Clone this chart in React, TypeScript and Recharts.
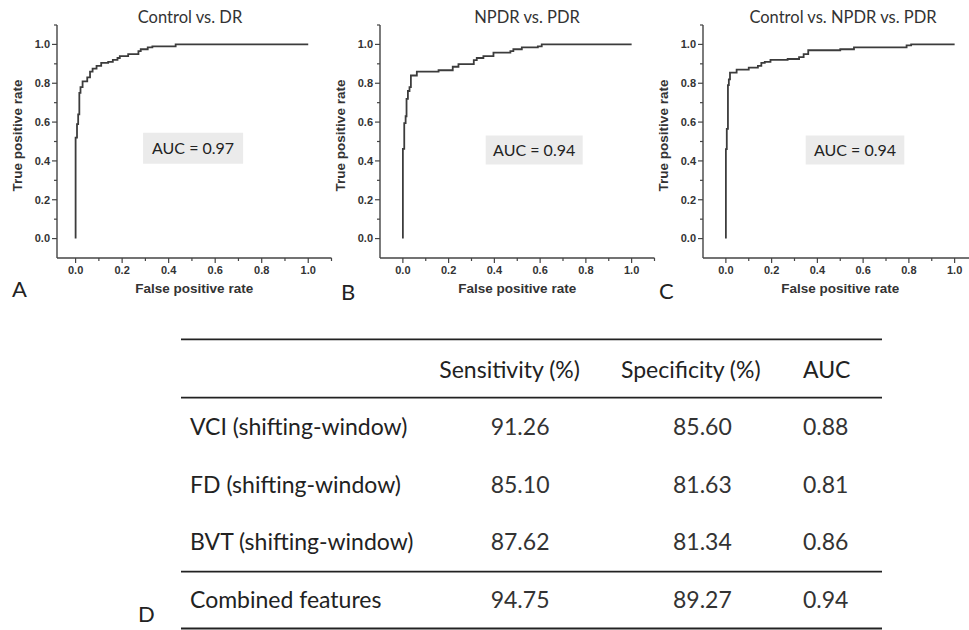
import React from 'react'
import { LineChart, Line, XAxis, YAxis, ReferenceArea } from 'recharts'

// ROC curve corners (false positive rate, true positive rate).
const CONTROL_DR_FPR = [0, 0, 0.006, 0.011, 0.016, 0.021, 0.03, 0.05, 0.062, 0.073, 0.09, 0.11, 0.14, 0.16, 0.18, 0.19, 0.226, 0.27, 0.28, 0.31, 0.33, 0.43, 1.0]
const CONTROL_DR_TPR = [0, 0.52, 0.59, 0.64, 0.75, 0.78, 0.81, 0.83, 0.86, 0.875, 0.89, 0.905, 0.91, 0.92, 0.93, 0.94, 0.95, 0.965, 0.975, 0.985, 0.99, 1.0, 1.0]

const NPDR_PDR_FPR = [0, 0, 0.006, 0.012, 0.016, 0.022, 0.029, 0.035, 0.061, 0.156, 0.218, 0.243, 0.31, 0.323, 0.352, 0.396, 0.47, 0.483, 0.52, 0.59, 0.607, 1.0]
const NPDR_PDR_TPR = [0, 0.462, 0.595, 0.63, 0.72, 0.76, 0.78, 0.84, 0.86, 0.867, 0.885, 0.898, 0.919, 0.93, 0.94, 0.958, 0.965, 0.975, 0.985, 0.99, 1.0, 1.0]

const THREE_CLASS_FPR = [0, 0, 0.004, 0.009, 0.013, 0.018, 0.047, 0.1, 0.14, 0.155, 0.17, 0.195, 0.27, 0.32, 0.34, 0.36, 0.5, 0.56, 0.79, 0.81, 1.0]
const THREE_CLASS_TPR = [0, 0.461, 0.565, 0.79, 0.82, 0.855, 0.87, 0.88, 0.89, 0.905, 0.91, 0.92, 0.925, 0.935, 0.95, 0.97, 0.975, 0.985, 0.995, 1.0, 1.0]

const PANEL_TITLES = ['Control vs. DR', 'NPDR vs. PDR', 'Control vs. NPDR vs. PDR']
const PANEL_AUC = ['0.97', '0.94', '0.94']
const PANEL_LETTERS = ['A', 'B', 'C']

const X_TICKS = [0, 0.1, 0.2, 0.3, 0.4, 0.5, 0.6, 0.7, 0.8, 0.9, 1.0, 1.1]
const Y_TICKS = [0, 0.1, 0.2, 0.3, 0.4, 0.5, 0.6, 0.7, 0.8, 0.9, 1.0, 1.1]

// table D
const TABLE_HEADERS = ['', 'Sensitivity (%)', 'Specificity (%)', 'AUC']
const FEATURES = ['VCI (shifting-window)', 'FD (shifting-window)', 'BVT (shifting-window)', 'Combined features']
const SENSITIVITY = [91.26, 85.1, 87.62, 94.75]
const SPECIFICITY = [85.6, 81.63, 81.34, 89.27]
const AUC_VALUES = [0.88, 0.81, 0.86, 0.94]

const AXIS = '#444'
const SANS = '"Liberation Sans", Arial, sans-serif'
const SOFT = 'Lato, "Open Sans", sans-serif'

const panels = [
  { fpr: CONTROL_DR_FPR, tpr: CONTROL_DR_TPR, left: 0, xMin: -0.08, box: [0.29, 0.72, 0.385, 0.545], titleX: 190, letterX: 12, letterY: 297 },
  { fpr: NPDR_PDR_FPR, tpr: NPDR_PDR_TPR, left: 323, xMin: -0.1, box: [0.362, 0.786, 0.381, 0.531], titleX: 527, letterX: 341, letterY: 300 },
  { fpr: THREE_CLASS_FPR, tpr: THREE_CLASS_TPR, left: 645.7, xMin: -0.1, box: [0.349, 0.78, 0.381, 0.531], titleX: 843, letterX: 659, letterY: 299 },
]

const isMajor = (v: number) => Math.round(v * 10) % 2 === 0 && v < 1.05

function XTick({ x, y, payload }: any) {
  const v = payload.value as number
  const major = isMajor(v)
  return (
    <g>
      <line x1={x} y1={y} x2={x} y2={y + (major ? 5 : 3)} stroke={AXIS} strokeWidth={1.2} />
      {major && (
        <text x={x} y={y + 8} dy="0.71em" textAnchor="middle" fontFamily={SANS} fontWeight="bold" fontSize={11} fill="#333">
          {v.toFixed(1)}
        </text>
      )}
    </g>
  )
}

function YTick({ x, y, payload }: any) {
  const v = payload.value as number
  const major = isMajor(v)
  return (
    <g>
      <line x1={x} y1={y} x2={x - (major ? 5 : 3)} y2={y} stroke={AXIS} strokeWidth={1.2} />
      {major && (
        <text x={x - 7} y={y} dy="0.35em" textAnchor="end" fontFamily={SANS} fontWeight="bold" fontSize={11} fill="#333">
          {v.toFixed(1)}
        </text>
      )}
    </g>
  )
}

function YTitle({ viewBox }: any) {
  const vb = viewBox ?? { x: 0, y: 25, width: 57, height: 233 }
  const cx = vb.x + vb.width - 40
  const cy = vb.y + vb.height / 2 - 6
  return (
    <text x={cx} y={cy} transform={`rotate(-90 ${cx} ${cy})`} textAnchor="middle" dominantBaseline="central"
      fontFamily={SANS} fontWeight="bold" fontSize={13.5} fill="#333">
      True positive rate
    </text>
  )
}

function RocPanel({ index }: { index: number }) {
  const p = panels[index]
  const data = p.fpr.map((f, i) => ({ fpr: f, tpr: p.tpr[i] }))
  return (
    <div style={{ position: 'absolute', left: p.left, top: 0 }}>
      <LineChart width={345} height={300} data={data} margin={{ top: 25, right: 13.5, bottom: 7, left: 0 }}>
        <XAxis dataKey="fpr" type="number" domain={[p.xMin, 1.1]} ticks={X_TICKS} interval={0} allowDataOverflow
          tickSize={0} tickMargin={0} tickLine={false} tick={<XTick />} height={35}
          axisLine={{ stroke: AXIS, strokeWidth: 1.4 }}
          label={{ value: 'False positive rate', position: 'insideBottom', offset: 0, fill: '#333', fontSize: 13.5, fontWeight: 'bold', fontFamily: SANS }} />
        <YAxis type="number" domain={[-0.1, 1.1]} ticks={Y_TICKS} interval={0} allowDataOverflow
          tickSize={0} tickMargin={0} tickLine={false} tick={<YTick />} width={57}
          axisLine={{ stroke: AXIS, strokeWidth: 1.4 }}
          label={{ content: (props: any) => <YTitle {...props} /> }} />
        <ReferenceArea x1={p.box[0]} x2={p.box[1]} y1={p.box[2]} y2={p.box[3]} fill="#ebebeb" fillOpacity={1} stroke="none"
          label={{ value: `AUC = ${PANEL_AUC[index]}`, position: 'center', fill: '#222', fontSize: 16, fontFamily: SOFT }} />
        <Line type="stepAfter" dataKey="tpr" stroke="#3c3c3c" strokeWidth={1.8} dot={false} isAnimationActive={false} />
      </LineChart>
    </div>
  )
}

const HEADER_X = [190, 439.3, 621, 803]
const VALUE_X = [190, 490.7, 673, 803]
const ROW_BASELINES = [435, 492.7, 550, 608.3]
const RULES_Y = [339.3, 397.7, 571.7, 628.5]
const TABLE_FONT = 23

export default function App() {
  return (
    <div style={{ position: 'absolute', left: 0, top: 0, width: 969, height: 630, overflow: 'hidden', background: '#fff' }}>
      {panels.map((_, i) => <RocPanel key={i} index={i} />)}
      <svg width={969} height={630} style={{ position: 'absolute', left: 0, top: 0, pointerEvents: 'none' }}>
        {panels.map((p, i) => (
          <g key={i}>
            <text x={p.titleX} y={23} textAnchor="middle" fontFamily={SOFT} fontSize={16.5} fill="#333">{PANEL_TITLES[i]}</text>
            <text x={p.letterX} y={p.letterY} fontFamily={SOFT} fontSize={22} fill="#222">{PANEL_LETTERS[i]}</text>
          </g>
        ))}
        <text x={138} y={622} fontFamily={SOFT} fontSize={22} fill="#222">D</text>
        {RULES_Y.map((y, i) => <line key={i} x1={181} x2={882} y1={y} y2={y} stroke="#222" strokeWidth={1.8} />)}
        {TABLE_HEADERS.map((h, i) => (
          <text key={i} x={HEADER_X[i]} y={378} fontFamily={SOFT} fontSize={TABLE_FONT} fill="#222">{h}</text>
        ))}
        {FEATURES.map((f, r) => (
          <g key={r} fontFamily={SOFT} fontSize={TABLE_FONT} fill="#222">
            <text x={VALUE_X[0]} y={ROW_BASELINES[r]}>{f}</text>
            <text x={VALUE_X[1]} y={ROW_BASELINES[r]} fill="#333">{SENSITIVITY[r].toFixed(2)}</text>
            <text x={VALUE_X[2]} y={ROW_BASELINES[r]} fill="#333">{SPECIFICITY[r].toFixed(2)}</text>
            <text x={VALUE_X[3]} y={ROW_BASELINES[r]} fill="#333">{AUC_VALUES[r].toFixed(2)}</text>
          </g>
        ))}
      </svg>
    </div>
  )
}
